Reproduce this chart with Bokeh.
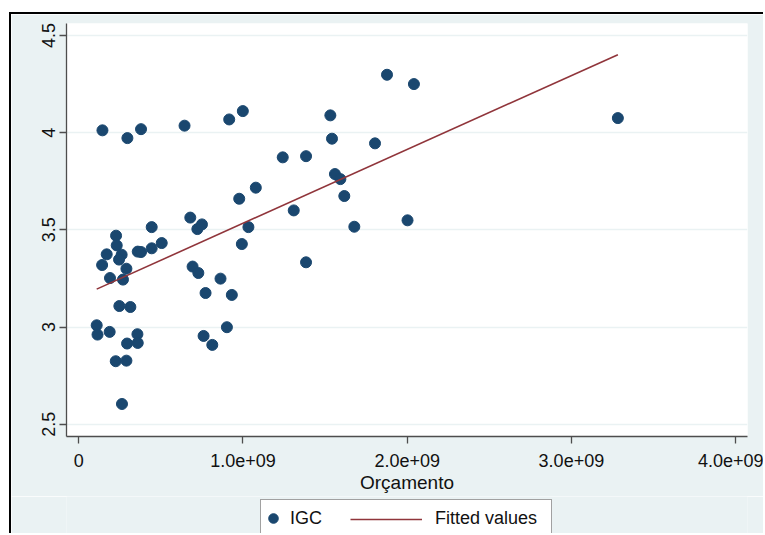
from bokeh.plotting import figure
from bokeh.layouts import column
from bokeh.models import Range1d, FixedTicker, Legend, LegendItem, ColumnDataSource
from bokeh.embed import file_html
from bokeh.resources import INLINE

# Orçamento (R$) and IGC values
orcamento = [
    0.144e9, 0.296e9, 0.379e9, 0.644e9, 0.916e9, 0.999e9, 1.532e9, 1.542e9, 1.877e9, 2.041e9, 3.283e9,
    1.242e9, 1.384e9, 1.804e9, 1.560e9, 1.593e9, 1.617e9, 1.078e9, 0.977e9, 1.309e9, 1.033e9, 0.993e9,
    1.678e9, 2.002e9, 1.384e9,
    0.109e9, 0.114e9, 0.188e9, 0.225e9, 0.290e9, 0.263e9, 0.294e9, 0.357e9, 0.359e9, 0.247e9, 0.314e9,
    0.190e9, 0.269e9, 0.142e9, 0.290e9, 0.170e9, 0.227e9, 0.231e9, 0.261e9, 0.245e9, 0.359e9, 0.379e9,
    0.444e9, 0.505e9, 0.444e9, 0.679e9, 0.722e9, 0.750e9, 0.693e9, 0.728e9, 0.863e9, 0.772e9, 0.932e9,
    0.902e9, 0.760e9, 0.813e9,
]
igc = [
    4.012, 3.972, 4.018, 4.036, 4.068, 4.111, 4.089, 3.969, 4.298, 4.250, 4.075,
    3.873, 3.879, 3.945, 3.787, 3.761, 3.674, 3.717, 3.660, 3.600, 3.514, 3.427,
    3.516, 3.549, 3.333,
    3.009, 2.961, 2.975, 2.824, 2.827, 2.604, 2.915, 2.963, 2.918, 3.108, 3.103,
    3.252, 3.244, 3.319, 3.300, 3.374, 3.470, 3.420, 3.372, 3.347, 3.388, 3.386,
    3.405, 3.432, 3.514, 3.563, 3.504, 3.528, 3.311, 3.278, 3.249, 3.175, 3.165,
    2.999, 2.954, 2.908,
]

# Fitted values (end points of the fitted line)
fit_x = [0.109e9, 3.283e9]
fit_y = [3.195, 4.401]

x_ticks = [0, 1e9, 2e9, 3e9, 4e9]
x_tick_labels = ["0", "1.0e+09", "2.0e+09", "3.0e+09", "4.0e+09"]
y_ticks = [2.5, 3, 3.5, 4, 4.5]
y_tick_labels = ["2.5", "3", "3.5", "4", "4.5"]

FONT = "Liberation Sans"
NAVY = "#1A476F"
MAROON = "#90353B"
PANEL = "#EAF2F3"
TXT = "#111111"

p = figure(
    width=754, height=484,
    output_backend="svg", toolbar_location=None,
    x_range=Range1d(-0.0749e9, 4.0725e9),
    y_range=Range1d(2.4367, 4.5617),
    min_border_left=55, min_border_right=18, min_border_top=9, min_border_bottom=62,
    background_fill_color="white", border_fill_color=PANEL,
    margin=(12, 0, 0, 9),
    styles={"border-top": "2px solid black", "border-left": "2px solid black"},
)
p.outline_line_color = None

src = ColumnDataSource(dict(x=orcamento, y=igc))
fit_src = ColumnDataSource(dict(x=fit_x, y=fit_y))
p.scatter("x", "y", source=src, marker="circle", size=11, fill_color=NAVY, line_color=NAVY)
p.line("x", "y", source=fit_src, line_color=MAROON, line_width=1.6)

# axes
for ax in (p.xaxis[0], p.yaxis[0]):
    ax.axis_line_color = "#4d4d4d"
    ax.axis_line_width = 1.3
    ax.major_tick_line_color = "#4d4d4d"
    ax.major_tick_line_width = 1.3
    ax.major_tick_out = 7
    ax.major_tick_in = 0
    ax.minor_tick_out = 0
    ax.minor_tick_in = 0
    ax.major_label_text_font = FONT
    ax.major_label_text_font_size = "18px"
    ax.major_label_text_color = TXT

p.xaxis.ticker = FixedTicker(ticks=x_ticks)
p.xaxis.major_label_overrides = dict(zip(x_ticks, x_tick_labels))
p.xaxis.major_label_standoff = 10
p.xaxis.axis_label = "Orçamento"
p.xaxis.axis_label_text_font = FONT
p.xaxis.axis_label_text_font_size = "19px"
p.xaxis.axis_label_text_font_style = "normal"
p.xaxis.axis_label_text_color = TXT
p.xaxis.axis_label_standoff = 2

p.yaxis.ticker = FixedTicker(ticks=y_ticks)
p.yaxis.major_label_overrides = dict(zip(y_ticks, y_tick_labels))
p.yaxis.major_label_orientation = "vertical"
p.yaxis.major_label_standoff = 4

p.xgrid.visible = False
p.ygrid.ticker = FixedTicker(ticks=y_ticks)
p.ygrid.grid_line_color = PANEL
p.ygrid.grid_line_width = 1.6

# ---- legend strip below the plot (same panel colour) ----
lf = figure(
    width=754, height=37,
    output_backend="svg", toolbar_location=None,
    x_range=Range1d(0, 1), y_range=Range1d(0, 1),
    x_axis_type=None, y_axis_type=None,
    min_border=0, min_border_left=0, min_border_right=0, min_border_top=0, min_border_bottom=0,
    background_fill_color=PANEL, border_fill_color=PANEL,
    margin=(0, 0, 0, 9),
    styles={"border-left": "2px solid black"},
)
lf.outline_line_color = None
lf.grid.visible = False
# legend-sample renderers (their data fall outside this strip's ranges)
l_sc = lf.scatter("x", "y", source=src, marker="circle", size=11, fill_color=NAVY, line_color=NAVY)
l_fit = lf.line("x", "y", source=fit_src, line_color=MAROON, line_width=1.6)
l_dummy = lf.line("x", "y", source=fit_src, line_alpha=0)

# the strip's frame is aligned with the main plot frame (left edge at x=66)
leg_box = Legend(
    items=[LegendItem(label="IGC", renderers=[l_sc]),
           LegendItem(label="Fitted values", renderers=[l_dummy])],
    orientation="horizontal", location=(194, -4),
    padding=0, margin=0, spacing=0,
    glyph_width=24, glyph_height=36, label_height=36, label_width=116,
    label_standoff=5,
    border_line_color="#444444", border_line_width=1,
    background_fill_color="white", background_fill_alpha=1,
    label_text_font=FONT, label_text_font_size="18px", label_text_color=TXT,
)
leg_line = Legend(
    items=[LegendItem(label=" ", renderers=[l_fit])],
    orientation="horizontal", location=(284, -4),
    padding=0, margin=0, spacing=0,
    glyph_width=72, glyph_height=36, label_height=36, label_width=0,
    label_standoff=0,
    border_line_alpha=0, background_fill_alpha=0,
    label_text_font=FONT, label_text_font_size="18px",
)
lf.add_layout(leg_box, "center")
lf.add_layout(leg_line, "center")

layout = column(p, lf, spacing=0)
open("out.html", "w").write(file_html(layout, INLINE))
